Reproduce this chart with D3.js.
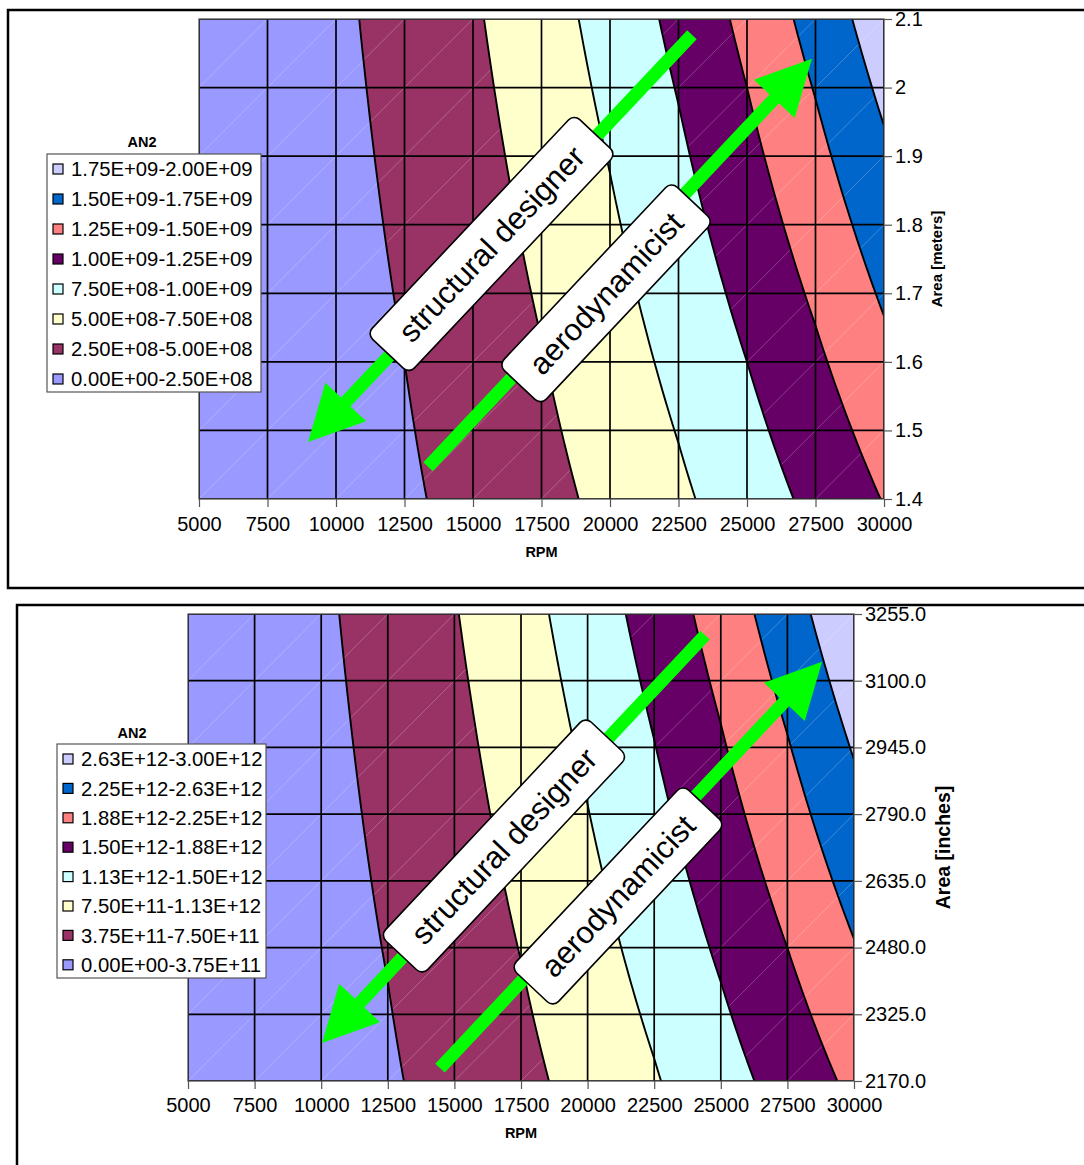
<!DOCTYPE html>
<html lang="en">
<head>
<meta charset="utf-8">
<title>AN2 contour</title>
<script src="https://d3js.org/d3.v7.min.js"></script>
<style>
  body { margin: 0; background: #fff; }
  text { font-family: "Liberation Sans", Arial, sans-serif; fill: #000; }
</style>
</head>
<body>
<script>

// grid columns (RPM)
var rpm = [5000, 7500, 10000, 12500, 15000, 17500, 20000, 22500, 25000, 27500, 30000];

// top chart: area in m^2, AN2 values in units of 1e8 (rows = area, bottom to top)
var areaMeters = [1.4, 1.5, 1.6, 1.7, 1.8, 1.9, 2.0, 2.1];
var yLabelsMeters = ["1.4", "1.5", "1.6", "1.7", "1.8", "1.9", "2", "2.1"];
var an2Meters = [
  [0.35, 0.7875, 1.4, 2.1875, 3.15, 4.2875, 5.6, 7.0875, 8.75, 10.5875, 12.6],
  [0.375, 0.8438, 1.5, 2.3438, 3.375, 4.5938, 6.0, 7.5938, 9.375, 11.3438, 13.5],
  [0.4, 0.9, 1.6, 2.5, 3.6, 4.9, 6.4, 8.1, 10.0, 12.1, 14.4],
  [0.425, 0.9563, 1.7, 2.6563, 3.825, 5.2063, 6.8, 8.6063, 10.625, 12.8563, 15.3],
  [0.45, 1.0125, 1.8, 2.8125, 4.05, 5.5125, 7.2, 9.1125, 11.25, 13.6125, 16.2],
  [0.475, 1.0688, 1.9, 2.9688, 4.275, 5.8188, 7.6, 9.6188, 11.875, 14.3688, 17.1],
  [0.5, 1.125, 2.0, 3.125, 4.5, 6.125, 8.0, 10.125, 12.5, 15.125, 18.0],
  [0.525, 1.1813, 2.1, 3.2813, 4.725, 6.4313, 8.4, 10.6313, 13.125, 15.8813, 18.9]
];
var bandsMeters = [0, 2.5, 5, 7.5, 10, 12.5, 15, 17.5, 20];
var legendMeters = ["0.00E+00-2.50E+08", "2.50E+08-5.00E+08", "5.00E+08-7.50E+08", "7.50E+08-1.00E+09",
                    "1.00E+09-1.25E+09", "1.25E+09-1.50E+09", "1.50E+09-1.75E+09", "1.75E+09-2.00E+09"];

// bottom chart: area in in^2, AN2 values in units of 1e11
var areaInches = [2170, 2325, 2480, 2635, 2790, 2945, 3100, 3255];
var yLabelsInches = ["2170.0", "2325.0", "2480.0", "2635.0", "2790.0", "2945.0", "3100.0", "3255.0"];
var an2Inches = [
  [0.5425, 1.2206, 2.17, 3.3906, 4.8825, 6.6456, 8.68, 10.9856, 13.5625, 16.4106, 19.53],
  [0.5813, 1.3078, 2.325, 3.6328, 5.2313, 7.1203, 9.3, 11.7703, 14.5313, 17.5828, 20.925],
  [0.62, 1.395, 2.48, 3.875, 5.58, 7.595, 9.92, 12.555, 15.5, 18.755, 22.32],
  [0.6588, 1.4822, 2.635, 4.1172, 5.9288, 8.0697, 10.54, 13.3397, 16.4688, 19.9272, 23.715],
  [0.6975, 1.5694, 2.79, 4.3594, 6.2775, 8.5444, 11.16, 14.1244, 17.4375, 21.0994, 25.11],
  [0.7363, 1.6566, 2.945, 4.6016, 6.6263, 9.0191, 11.78, 14.9091, 18.4063, 22.2716, 26.505],
  [0.775, 1.7438, 3.1, 4.8438, 6.975, 9.4938, 12.4, 15.6938, 19.375, 23.4438, 27.9],
  [0.8138, 1.8309, 3.255, 5.0859, 7.3238, 9.9684, 13.02, 16.4784, 20.3438, 24.6159, 29.295]
];
var bandsInches = [0, 3.75, 7.5, 11.25, 15, 18.75, 22.5, 26.25, 30];
var legendInches = ["0.00E+00-3.75E+11", "3.75E+11-7.50E+11", "7.50E+11-1.13E+12", "1.13E+12-1.50E+12",
                    "1.50E+12-1.88E+12", "1.88E+12-2.25E+12", "2.25E+12-2.63E+12", "2.63E+12-3.00E+12"];

// Excel default surface colours, lowest band first
var bandColors = ["#9999FF", "#993366", "#FFFFCC", "#CCFFFF", "#660066", "#FF8080", "#0066CC", "#CCCCFF"];

var W = 1084, H = 1165;
var svg = d3.select("body").append("svg").attr("width", W).attr("height", H);

// arrow outline from tail to tip
function arrowPoints(t, p, w, hl, hw) {
  var dx = p[0] - t[0], dy = p[1] - t[1], len = Math.hypot(dx, dy);
  var ux = dx / len, uy = dy / len, nx = -uy, ny = ux;
  var bx = p[0] - ux * hl, by = p[1] - uy * hl;
  return [
    [t[0] + nx * w / 2, t[1] + ny * w / 2],
    [bx + nx * w / 2, by + ny * w / 2],
    [bx + nx * hw / 2, by + ny * hw / 2],
    p,
    [bx - nx * hw / 2, by - ny * hw / 2],
    [bx - nx * w / 2, by - ny * w / 2],
    [t[0] - nx * w / 2, t[1] - ny * w / 2]
  ];
}

function drawChart(o) {
  var g = svg.append("g");

  g.append("rect")
    .attr("x", o.frame[0]).attr("y", o.frame[1])
    .attr("width", o.frame[2]).attr("height", o.frame[3])
    .attr("fill", "none").attr("stroke", "#000").attr("stroke-width", 2.5);

  var x = d3.scaleLinear().domain(d3.extent(rpm)).range([o.left, o.right]);
  var y = d3.scaleLinear().domain(d3.extent(o.area)).range([o.bottom, o.top]);

  // surface: bilinear between grid samples, then marching squares
  var k = 12, nx = rpm.length, ny = o.area.length;
  var mx = (nx - 1) * k + 1, my = (ny - 1) * k + 1;
  var z = o.values, vals = new Array(mx * my);
  for (var j = 0; j < my; j++) {
    for (var i = 0; i < mx; i++) {
      var gi = Math.min(Math.floor(i / k), nx - 2), gj = Math.min(Math.floor(j / k), ny - 2);
      var fx = i / k - gi, fy = j / k - gj;
      vals[j * mx + i] = z[gj][gi] * (1 - fx) * (1 - fy) + z[gj][gi + 1] * fx * (1 - fy) +
                         z[gj + 1][gi] * (1 - fx) * fy + z[gj + 1][gi + 1] * fx * fy;
    }
  }
  var xi = d3.scaleLinear().domain([0, mx - 1]).range([x(rpm[0]), x(rpm[nx - 1])]);
  var yi = d3.scaleLinear().domain([0, my - 1]).range([y(o.area[0]), y(o.area[ny - 1])]);
  var path = d3.geoPath(d3.geoTransform({
    point: function(px, py) { this.stream.point(xi(px - 0.5), yi(py - 0.5)); }
  }));
  var contours = d3.contours().size([mx, my]).thresholds(o.bands.slice(0, -1))(vals);

  var clipId = "clip" + o.id;
  g.append("clipPath").attr("id", clipId).append("rect")
    .attr("x", o.left).attr("y", o.top)
    .attr("width", o.right - o.left).attr("height", o.bottom - o.top);

  var plot = g.append("g").attr("clip-path", "url(#" + clipId + ")");
  plot.selectAll("path.band").data(contours).enter().append("path")
    .attr("class", "band")
    .attr("d", path)
    .attr("fill", function(d, i) { return bandColors[i]; });

  // faint triangulation diagonals
  var cells = [];
  for (var a = 0; a < nx - 1; a++) for (var b = 0; b < ny - 1; b++) cells.push([a, b]);
  plot.selectAll("line.diag").data(cells).enter().append("line")
    .attr("x1", function(d) { return x(rpm[d[0]]); })
    .attr("y1", function(d) { return y(o.area[d[1]]); })
    .attr("x2", function(d) { return x(rpm[d[0] + 1]); })
    .attr("y2", function(d) { return y(o.area[d[1] + 1]); })
    .attr("stroke", "#fff").attr("stroke-opacity", 0.3).attr("stroke-width", 0.8);

  // gridlines
  plot.selectAll("line.vg").data(rpm).enter().append("line")
    .attr("x1", x).attr("x2", x).attr("y1", o.top).attr("y2", o.bottom)
    .attr("stroke", "#000").attr("stroke-width", 1.7);
  plot.selectAll("line.hg").data(o.area).enter().append("line")
    .attr("y1", y).attr("y2", y).attr("x1", o.left).attr("x2", o.right)
    .attr("stroke", "#000").attr("stroke-width", 1.7);

  // contour lines
  plot.selectAll("path.iso").data(contours.slice(1)).enter().append("path")
    .attr("class", "iso")
    .attr("d", path)
    .attr("fill", "none").attr("stroke", "#000").attr("stroke-width", 1.9);

  g.append("rect")
    .attr("x", o.left).attr("y", o.top)
    .attr("width", o.right - o.left).attr("height", o.bottom - o.top)
    .attr("fill", "none").attr("stroke", "#444").attr("stroke-width", 1.2);

  // axes
  var xAxis = g.append("g").attr("transform", "translate(0," + o.bottom + ")")
    .call(d3.axisBottom(x).tickValues(rpm).tickSize(8).tickPadding(o.xPad).tickFormat(d3.format("d")));
  var yAxis = g.append("g").attr("transform", "translate(" + o.right + ",0)")
    .call(d3.axisRight(y).tickValues(o.area).tickSize(8).tickPadding(3)
      .tickFormat(function(d, i) { return o.yLabels[i]; }));
  [xAxis, yAxis].forEach(function(ax) {
    ax.select(".domain").remove();
    ax.selectAll(".tick line").attr("stroke", "#555").attr("stroke-width", 1.2);
    ax.selectAll(".tick text").attr("font-size", 20).attr("font-family", "Liberation Sans, Arial, sans-serif").attr("fill", "#000");
  });

  g.append("text")
    .attr("x", (o.left + o.right) / 2).attr("y", o.xTitleY)
    .attr("text-anchor", "middle").attr("font-weight", "bold").attr("font-size", 14.5)
    .text("RPM");
  g.append("text")
    .attr("transform", "translate(" + o.yTitleX + "," + (o.top + o.bottom) / 2 + ") rotate(-90)")
    .attr("text-anchor", "middle").attr("dy", "0.35em")
    .attr("font-weight", "bold").attr("font-size", o.yTitleSize)
    .text(o.yTitle);

  // legend
  var lg = g.append("g");
  lg.append("text")
    .attr("x", o.legend.titleX).attr("y", o.legend.titleY)
    .attr("text-anchor", "middle").attr("dy", "0.35em")
    .attr("font-weight", "bold").attr("font-size", 14.5)
    .text("AN2");
  lg.append("rect")
    .attr("x", o.legend.x).attr("y", o.legend.y)
    .attr("width", o.legend.w).attr("height", o.legend.h)
    .attr("fill", "#fff").attr("stroke", "#555").attr("stroke-width", 1.2);
  var rows = o.legendLabels.slice().reverse();
  var cols = bandColors.slice().reverse();
  var row = lg.selectAll("g.row").data(rows).enter().append("g")
    .attr("transform", function(d, i) {
      return "translate(" + (o.legend.x + 6) + "," + (o.legend.first + i * o.legend.step) + ")";
    });
  row.append("rect")
    .attr("x", 0).attr("y", -5).attr("width", 10).attr("height", 10)
    .attr("fill", function(d, i) { return cols[i]; })
    .attr("stroke", "#000").attr("stroke-width", 1.2);
  row.append("text")
    .attr("x", 18).attr("dy", "0.35em").attr("font-size", 20.3)
    .text(function(d) { return d; });

  // annotation arrows and labels (positions in data units)
  o.notes.forEach(function(n) {
    var tail = [x(n.tail[0]), y(n.tail[1])], tip = [x(n.tip[0]), y(n.tip[1])];
    g.append("path")
      .attr("d", d3.line()(arrowPoints(tail, tip, 13, 55, 56)) + "Z")
      .attr("fill", "#00FF00");
  });
  o.notes.forEach(function(n) {
    var tail = [x(n.tail[0]), y(n.tail[1])], tip = [x(n.tip[0]), y(n.tip[1])];
    var ang = Math.atan2(tip[1] - tail[1], tip[0] - tail[0]) * 180 / Math.PI;
    if (ang > 90) ang -= 180;
    if (ang < -90) ang += 180;
    var bg = g.append("g")
      .attr("transform", "translate(" + x(n.box[0]) + "," + y(n.box[1]) + ") rotate(" + ang + ")");
    bg.append("rect")
      .attr("x", -n.len / 2).attr("y", -29).attr("width", n.len).attr("height", 58)
      .attr("rx", 8).attr("fill", "#fff").attr("stroke", "#000").attr("stroke-width", 1.6);
    bg.append("text")
      .attr("text-anchor", "middle").attr("dy", "0.35em").attr("font-size", 31)
      .text(n.label);
  });
}

drawChart({
  id: "m", frame: [8, 10, 1090, 578],
  left: 199, right: 884, top: 19, bottom: 499,
  area: areaMeters, values: an2Meters, bands: bandsMeters,
  yLabels: yLabelsMeters, legendLabels: legendMeters,
  xPad: 10, xTitleY: 557,
  yTitle: "Area [meters]", yTitleX: 937, yTitleSize: 15,
  legend: { titleX: 142, titleY: 142, x: 47, y: 154, w: 214, h: 238, first: 169, step: 30 },
  notes: [
    { label: "structural designer", tail: [22990, 2.077], tip: [8980, 1.483], box: [15675, 1.772], len: 302 },
    { label: "aerodynamicist", tail: [13360, 1.447], tip: [27370, 2.042], box: [19855, 1.700], len: 252 }
  ]
});

drawChart({
  id: "i", frame: [17, 605, 1090, 600],
  left: 188, right: 854, top: 614, bottom: 1081,
  area: areaInches, values: an2Inches, bands: bandsInches,
  yLabels: yLabelsInches, legendLabels: legendInches,
  xPad: 9, xTitleY: 1138,
  yTitle: "Area [inches]", yTitleX: 943, yTitleSize: 19.5,
  legend: { titleX: 132, titleY: 733, x: 57, y: 744, w: 209, h: 234, first: 759, step: 29.4 },
  notes: [
    { label: "structural designer", tail: [24410, 3206], tip: [10030, 2258], box: [16860, 2716], len: 300 },
    { label: "aerodynamicist", tail: [14460, 2200], tip: [28800, 3144], box: [21140, 2600], len: 251 }
  ]
});

</script>
</body>
</html>
